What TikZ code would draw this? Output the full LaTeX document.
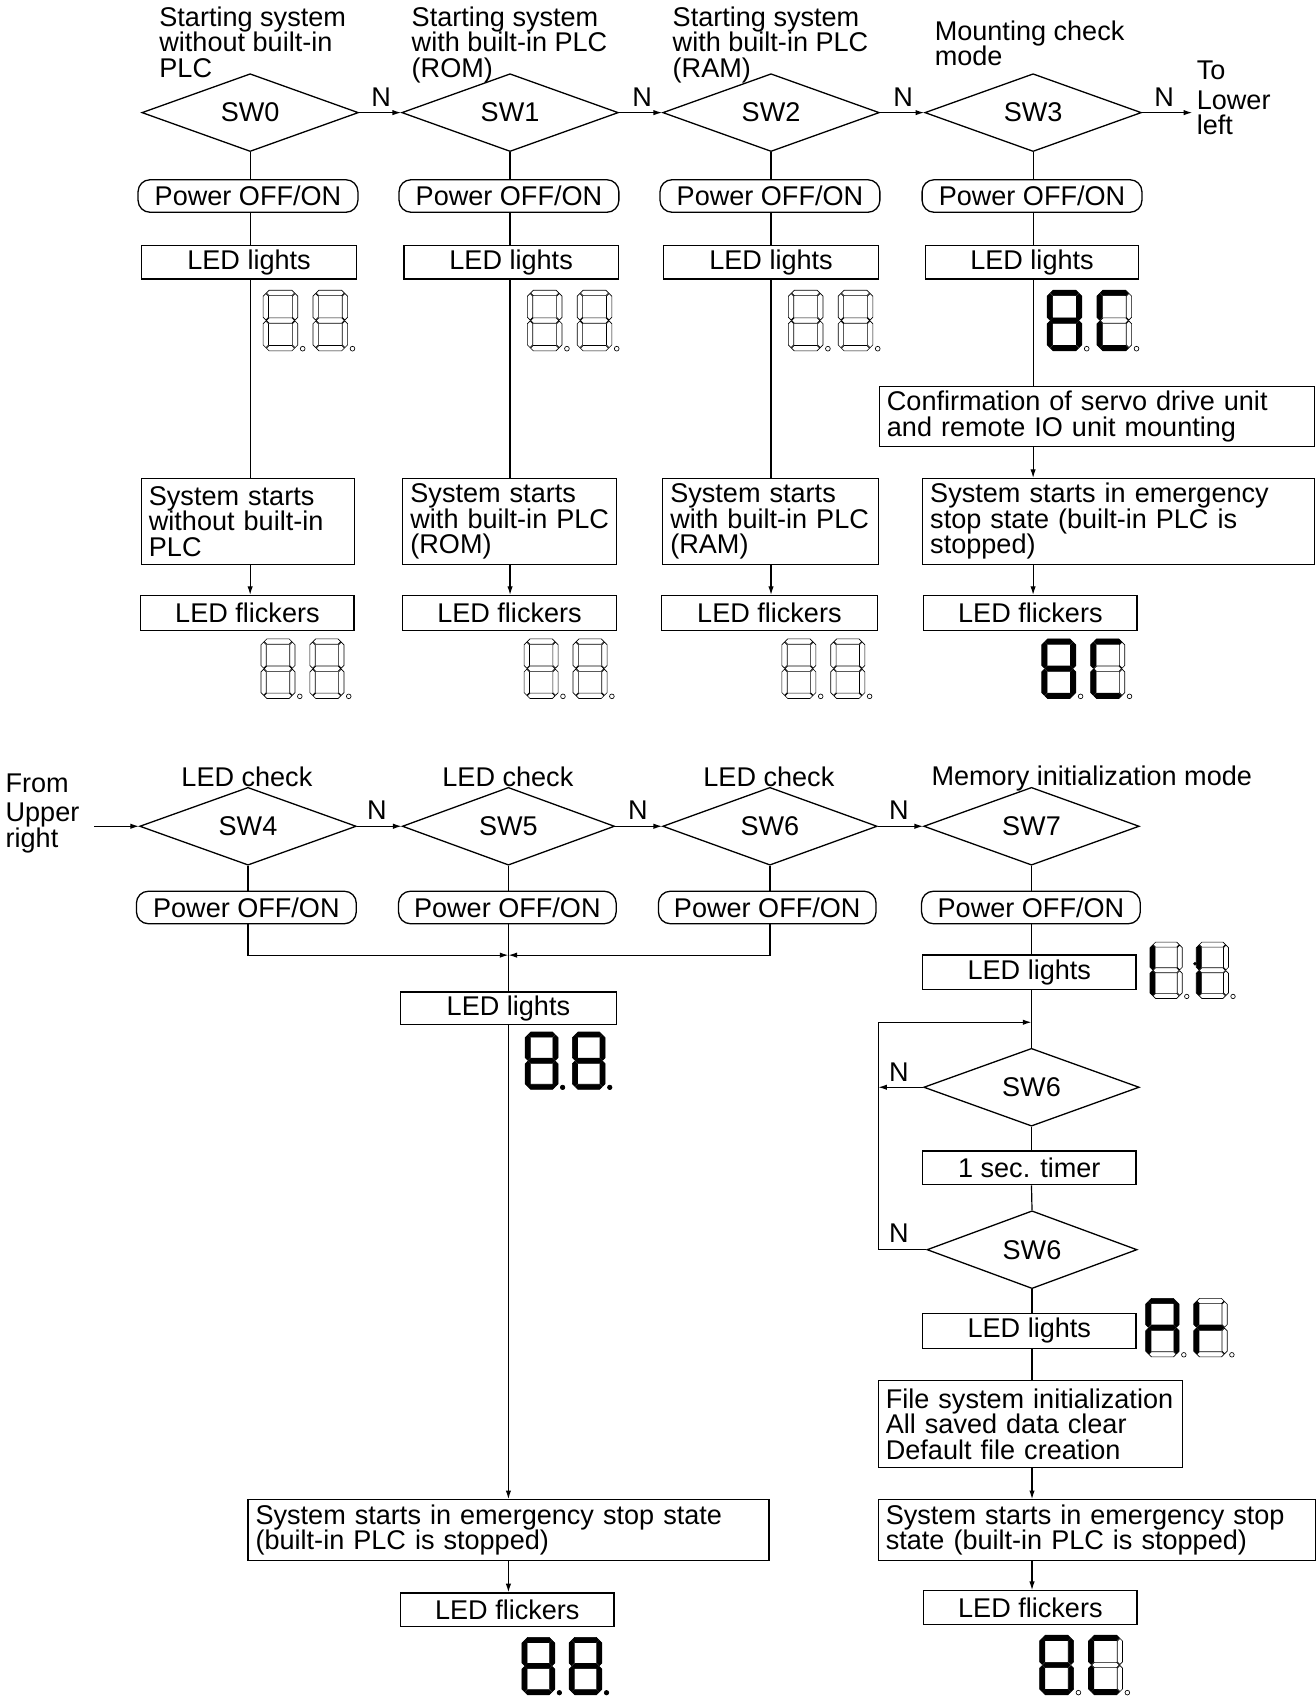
\documentclass[tikz,border=0pt]{standalone}
\usepackage{fontspec}
\setmainfont{Liberation Sans}
\usetikzlibrary{shapes.geometric,arrows.meta}

\tikzset{
  txt/.style={font=\fontsize{25}{23.5}\selectfont},
  ln/.style={line width=1.1pt},
  arr/.style={ln,-{Latex[length=8pt,width=5pt]}},
  box/.style={txt,draw,line width=1.2pt,rectangle,inner xsep=7pt,inner ysep=0pt,minimum height=31pt},
  pwr/.style={txt,draw,line width=1.2pt,rounded corners=11pt,minimum width=203pt,minimum height=30pt,inner sep=0pt},
  dia/.style={txt,draw,line width=1.2pt,diamond,minimum width=200pt,minimum height=57pt,inner sep=0pt},
  lbl/.style={txt,inner sep=0pt,align=left,anchor=north west},
  segoff/.style={draw,line width=0.6pt},
  segon/.style={draw,fill=black,line width=0.6pt},
  sa/.style=segoff, sb/.style=segoff, sc/.style=segoff, sd/.style=segoff,
  se/.style=segoff, sf/.style=segoff, sg/.style=segoff,
  digoff/.style={},
  dig8/.style={sa/.style=segon,sb/.style=segon,sc/.style=segon,sd/.style=segon,
               se/.style=segon,sf/.style=segon,sg/.style=segon},
  digC/.style={sa/.style=segon,sd/.style=segon,se/.style=segon,sf/.style=segon},
  digL/.style={se/.style=segon,sf/.style=segon},
  digA/.style={sa/.style=segon,sb/.style=segon,sc/.style=segon,
               se/.style=segon,sf/.style=segon,sg/.style=segon},
  digF/.style={se/.style=segon,sf/.style=segon,sg/.style=segon},
}

% one horizontal / vertical segment of a seven-segment digit (local units)
\newcommand\hseg[4]{\path[#4] (#1,#3) -- (#1+2.5,#3-2.5) -- (#2-2.5,#3-2.5) -- (#2,#3)
  -- (#2-2.5,#3+2.5) -- (#1+2.5,#3+2.5) -- cycle;}
\newcommand\vseg[4]{\path[#4] (#1,#2) -- (#1+2.5,#2+2.5) -- (#1+2.5,#3-2.5) -- (#1,#3)
  -- (#1-2.5,#3-2.5) -- (#1-2.5,#2+2.5) -- cycle;}
\newcommand\onedigit{%
  \hseg{3}{29}{2.5}{sa}
  \vseg{29.5}{3}{27.5}{sb}
  \vseg{29.5}{28.5}{53}{sc}
  \hseg{3}{29}{53.5}{sd}
  \vseg{2.5}{28.5}{53}{se}
  \vseg{2.5}{3}{27.5}{sf}
  \hseg{3}{29}{28}{sg}}
% two digits with decimal points: x, y (top left), height, digit 1, digit 2, dot fill
\newcommand\ledpair[6]{%
  \begin{scope}[shift={(#1,#2)},scale=#3/56]
    \begin{scope}[#4]\onedigit\end{scope}
    \path[draw,line width=0.6pt,fill=#6] (36.5,54) circle[radius=2.2];
    \begin{scope}[shift={(46,0)},#5]\onedigit\end{scope}
    \path[draw,line width=0.6pt,fill=#6] (82.5,54) circle[radius=2.2];
  \end{scope}}
% a text line that never wraps
\newcommand\oneline[1]{\mbox{#1}}

\begin{document}
\begin{tikzpicture}[x=1pt,y=-1pt]
\useasboundingbox[fill=white] (0,0) rectangle (1215,1568);

% ---------------- upper half ----------------
\node[lbl] (t0) at (147,6) {Starting system\\without built-in\\PLC};
\node[lbl] (t1) at (380,6) {Starting system\\with built-in PLC\\(ROM)};
\node[lbl] (t2) at (621,6) {Starting system\\with built-in PLC\\(RAM)};
\node[lbl] (t3) at (863,19) {Mounting check\\mode};
\node[lbl] (t4) at (1105,56) {To\\[4pt]Lower\\left};

\node[dia] (d0) at (231,104) {SW0};
\node[dia] (d1) at (471,104) {SW1};
\node[dia] (d2) at (712,104) {SW2};
\node[dia] (d3) at (954,104) {SW3};
\coordinate (tll) at (1101,104);

\node[txt] (n0) at (352,90) {N};
\node[txt] (n1) at (593,90) {N};
\node[txt] (n2) at (834,90) {N};
\node[txt] (n3) at (1075,90) {N};

\draw[arr] (d0.east) -- (d1.west);
\draw[arr] (d1.east) -- (d2.west);
\draw[arr] (d2.east) -- (d3.west);
\draw[arr] (d3.east) -- (tll);

\node[pwr] (p0) at (229,181) {Power OFF/ON};
\node[pwr] (p1) at (470,181) {Power OFF/ON};
\node[pwr] (p2) at (711,181) {Power OFF/ON};
\node[pwr] (p3) at (953,181) {Power OFF/ON};

\node[box,minimum width=199pt] (l0) at (230,242) {LED lights};
\node[box,minimum width=198pt] (l1) at (472,242) {LED lights};
\node[box,minimum width=199pt] (l2) at (712,242) {LED lights};
\node[box,minimum width=197pt] (l3) at (953,242) {LED lights};

\node[box,minimum width=197pt,minimum height=79pt,text width=183pt,align=left] (s0) at (229,481.5)
  {\oneline{System starts}\\\oneline{without built-in}\\\oneline{PLC}};
\node[box,minimum width=197pt,minimum height=79pt,text width=183pt,align=left] (s1) at (470.5,481.5)
  {\oneline{System starts}\\\oneline{with built-in PLC}\\\oneline{(ROM)}};
\node[box,minimum width=199pt,minimum height=79pt,text width=185pt,align=left] (s2) at (711.5,481.5)
  {\oneline{System starts}\\\oneline{with built-in PLC}\\\oneline{(RAM)}};
\node[box,minimum width=362pt,minimum height=79pt,text width=348pt,align=left] (s3) at (1033,481.5)
  {\oneline{System starts in emergency}\\\oneline{stop state (built-in PLC is}\\\oneline{stopped)}};
\node[box,minimum width=402pt,minimum height=55pt,text width=388pt,align=left] (cf) at (1013,384.5)
  {\oneline{Confirmation of servo drive unit}\\\oneline{and remote IO unit mounting}};

\node[box,minimum width=197pt,minimum height=32pt] (f0) at (228.5,566) {LED flickers};
\node[box,minimum width=197pt,minimum height=32pt] (f1) at (470.5,566) {LED flickers};
\node[box,minimum width=199pt,minimum height=32pt] (f2) at (710.5,566) {LED flickers};
\node[box,minimum width=197pt,minimum height=32pt] (f3) at (951.5,566) {LED flickers};

\foreach \i in {0,1,2} {
  \draw[ln] (d\i.south) -- (d\i.south |- p\i.north);
  \draw[ln] (d\i.south |- p\i.south) -- (d\i.south |- l\i.north);
  \draw[ln] (d\i.south |- l\i.south) -- (d\i.south |- s\i.north);
  \draw[arr] (d\i.south |- s\i.south) -- (d\i.south |- f\i.north);
}
\draw[ln] (d3.south) -- (d3.south |- p3.north);
\draw[ln] (d3.south |- p3.south) -- (d3.south |- l3.north);
\draw[ln] (d3.south |- l3.south) -- (d3.south |- cf.north);
\draw[arr] (d3.south |- cf.south) -- (d3.south |- s3.north);
\draw[arr] (d3.south |- s3.south) -- (d3.south |- f3.north);

\ledpair{243}{268}{56}{digoff}{digoff}{white}
\ledpair{487}{268}{56}{digoff}{digoff}{white}
\ledpair{728}{268}{56}{digoff}{digoff}{white}
\ledpair{967}{268}{56}{dig8}{digC}{white}

\ledpair{241}{590}{55}{digoff}{digoff}{white}
\ledpair{484}{590}{55}{digoff}{digoff}{white}
\ledpair{722}{590}{55}{digoff}{digoff}{white}
\ledpair{962}{590}{55}{dig8}{digC}{white}

% ---------------- lower half ----------------
\node[lbl] (t5) at (5,714) {From\\[4pt]Upper\\right};
\coordinate (fur) at (87,763);
\node[txt] (t6) at (228,717) {LED check};
\node[txt] (t7) at (469,717) {LED check};
\node[txt] (t8) at (710,717) {LED check};
\node[lbl] (t9) at (860,707) {Memory initialization mode};

\node[dia,minimum height=58pt] (d4) at (229,763) {SW4};
\node[dia,minimum height=58pt,minimum width=196pt] (d5) at (469.5,763) {SW5};
\node[dia,minimum height=58pt,minimum width=198pt] (d6) at (711,763) {SW6};
\node[dia,minimum height=58pt,minimum width=199pt] (d7) at (952.5,763) {SW7};

\node[txt] (n4) at (348,748) {N};
\node[txt] (n5) at (589,748) {N};
\node[txt] (n6) at (830,748) {N};

\draw[arr] (fur) -- (d4.west);
\draw[arr] (d4.east) -- (d5.west);
\draw[arr] (d5.east) -- (d6.west);
\draw[arr] (d6.east) -- (d7.west);

\node[pwr] (p4) at (227.5,838) {Power OFF/ON};
\node[pwr,minimum width=201pt] (p5) at (468.5,838) {Power OFF/ON};
\node[pwr,minimum width=201pt] (p6) at (708.5,838) {Power OFF/ON};
\node[pwr,minimum width=202pt] (p7) at (952,838) {Power OFF/ON};

\draw[ln] (d4.south) -- (d4.south |- p4.north);
\draw[ln] (d5.south) -- (d5.south |- p5.north);
\draw[ln] (d6.south) -- (d6.south |- p6.north);
\draw[ln] (d7.south) -- (d7.south |- p7.north);

% merging of SW4 / SW5 / SW6 branches
\coordinate (mj) at (469.5,882);
\node[box,minimum width=199pt,minimum height=30pt] (l5) at (469.5,931) {LED lights};
\draw[arr] (d4.south |- p4.south) |- (mj);
\draw[arr] (d6.south |- p6.south) |- (mj);
\draw[ln] (d5.south |- p5.south) -- (l5.north);
\ledpair{485}{953}{53}{dig8}{dig8}{black}

\node[box,minimum width=481pt,minimum height=56pt,text width=467pt,align=left] (s5) at (469.5,1413)
  {\oneline{System starts in emergency stop state}\\\oneline{(built-in PLC is stopped)}};
\node[box,minimum width=197pt,minimum height=31pt] (f5) at (468.5,1486.5) {LED flickers};
\draw[arr] (l5.south) -- (s5.north -| l5.south);
\draw[arr] (s5.south -| l5.south) -- (f5.north -| l5.south);
\ledpair{482}{1512}{53}{dig8}{dig8}{black}

% memory initialization branch
\node[box,minimum width=197pt,minimum height=32pt] (l7) at (950.5,898) {LED lights};
\draw[ln] (d7.south |- p7.south) -- (d7.south |- l7.north);
\ledpair{1062}{870}{52}{digL}{digL}{white}
\path[draw,line width=0.6pt,fill=black] (1103.5,890) circle[radius=1.3];

\node[dia,minimum width=199pt,minimum height=58pt] (q1) at (952.5,1004) {SW6};
\node[box,minimum width=197pt,minimum height=31pt] (tm) at (950.5,1078.5) {1 sec. timer};
\node[dia,minimum width=194pt,minimum height=58pt] (q2) at (953,1154) {SW6};
\node[txt] (n7) at (830,990) {N};
\node[txt] (n8) at (830,1139) {N};

\coordinate (jn) at (952.5,944);
\coordinate (lt) at (811,944);
\coordinate (lm) at (811,1004);
\coordinate (lb) at (811,1154);

\draw[ln] (d7.south |- l7.south) -- (q1.north);
\draw[ln] (q1.south) -- (q1.south |- tm.north);
\draw[ln] (q1.south |- tm.south) -- (q2.north);
\draw[arr] (q1.west) -- (lm);
\draw[ln] (q2.west) -- (lb) -- (lt);
\draw[arr] (lt) -- (jn);

\node[box,minimum width=197pt,minimum height=32pt] (l8) at (950.5,1229) {LED lights};
\draw[ln] (q2.south) -- (q2.south |- l8.north);
\ledpair{1058}{1199}{54}{digA}{digF}{white}

\node[box,minimum width=281pt,minimum height=80pt,text width=267pt,align=left] (fs) at (951.5,1315)
  {\oneline{File system initialization}\\\oneline{All saved data clear}\\\oneline{Default file creation}};
\node[box,minimum width=404pt,minimum height=56pt,text width=390pt,align=left] (s7) at (1013,1413)
  {\oneline{System starts in emergency stop}\\\oneline{state (built-in PLC is stopped)}};
\node[box,minimum width=197pt,minimum height=31pt] (f7) at (951.5,1484.5) {LED flickers};

\draw[ln] (q2.south |- l8.south) -- (q2.south |- fs.north);
\draw[arr] (q2.south |- fs.south) -- (q2.south |- s7.north);
\draw[arr] (q2.south |- s7.south) -- (q2.south |- f7.north);
\ledpair{960}{1510}{55}{dig8}{digC}{white}

\end{tikzpicture}
\end{document}
